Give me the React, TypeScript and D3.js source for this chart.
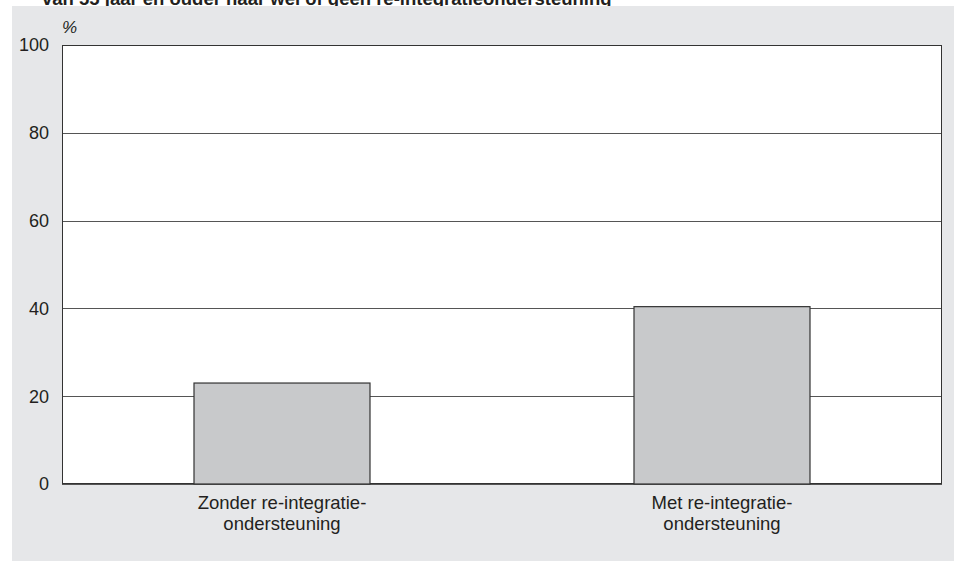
import React from "react";
import * as d3 from "d3";

const title = "van 55 jaar en ouder naar wel of geen re-integratieondersteuning";
const categories = [
  ["Zonder re-integratie-", "ondersteuning"],
  ["Met re-integratie-", "ondersteuning"],
];
const values = [23, 40.4];
const yTicks = [0, 20, 40, 60, 80, 100];
const unitLabel = "%";

const W = 954;
const H = 561;
const M = { left: 62, right: 942, top: 45, bottom: 484 };
const FONT = "'Liberation Sans', Arial, Helvetica, sans-serif";

export default function App() {
  const x = d3
    .scaleBand<number>()
    .domain(d3.range(values.length))
    .range([M.left, M.right])
    .paddingInner(0.6)
    .paddingOuter(0.3);
  const y = d3.scaleLinear().domain([0, 100]).range([M.bottom, M.top]);

  return (
    <svg
      width={W}
      height={H}
      style={{ position: "absolute", left: 0, top: 0 }}
      fontFamily={FONT}
    >
      <rect x={0} y={0} width={W} height={H} fill="#ffffff" />
      <text x={42} y={5} fontSize={18.5} fontWeight="bold" fill="#231f20">
        {title}
      </text>
      <rect x={12} y={6} width={W - 12} height={H - 6} fill="#e6e7e9" />
      <rect
        x={M.left}
        y={M.top}
        width={M.right - M.left}
        height={M.bottom - M.top}
        fill="#ffffff"
      />
      {yTicks.map((t) => (
        <g key={t}>
          <line
            x1={M.left}
            x2={M.right}
            y1={Math.round(y(t)) + 0.5}
            y2={Math.round(y(t)) + 0.5}
            stroke="#555"
            strokeWidth={1}
          />
          <text
            x={49}
            y={y(t)}
            dy="0.35em"
            textAnchor="end"
            fontSize={18}
            fill="#231f20"
          >
            {t}
          </text>
        </g>
      ))}
      <rect
        x={M.left + 0.5}
        y={M.top + 0.5}
        width={M.right - M.left - 1}
        height={M.bottom - M.top - 1}
        fill="none"
        stroke="#333"
        strokeWidth={1}
      />
      {values.map((v, i) => (
        <rect
          key={i}
          x={x(i)!}
          y={y(v)}
          width={x.bandwidth()}
          height={y(0) - y(v)}
          fill="#c8c9cb"
          stroke="#333"
          strokeWidth={1.2}
        />
      ))}
      {categories.map((lines, i) => (
        <text
          key={i}
          x={x(i)! + x.bandwidth() / 2}
          y={509}
          textAnchor="middle"
          fontSize={18.5}
          fill="#231f20"
        >
          {lines.map((l, j) => (
            <tspan key={j} x={x(i)! + x.bandwidth() / 2} dy={j === 0 ? 0 : 20.5}>
              {l}
            </tspan>
          ))}
        </text>
      ))}
      <text x={62} y={33} fontSize={17} fontStyle="italic" fill="#231f20">
        {unitLabel}
      </text>
    </svg>
  );
}
